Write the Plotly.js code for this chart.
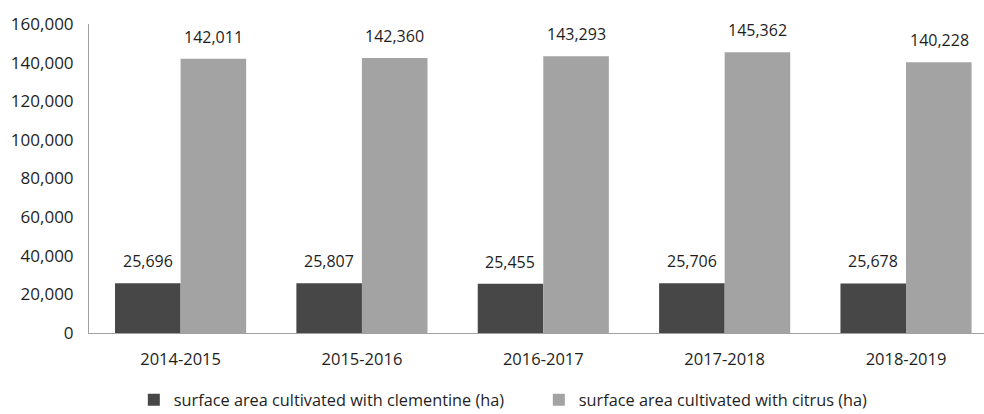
<!DOCTYPE html>
<html>
<head>
<meta charset="utf-8">
<script src="https://cdn.plot.ly/plotly-3.0.1.min.js"></script>
<style>html,body{margin:0;padding:0;background:#fff;}#chart{width:984px;height:414px;}</style>
</head>
<body>
<div id="chart"></div>
<script>
const seasons = ["2014-2015", "2015-2016", "2016-2017", "2017-2018", "2018-2019"];
const clementine = [25696, 25807, 25455, 25706, 25678];
const citrus = [142011, 142360, 143293, 145362, 140228];
const seriesNames = ["surface area cultivated with clementine (ha)", "surface area cultivated with citrus (ha)"];
const yTicks = [0, 20000, 40000, 60000, 80000, 100000, 120000, 140000, 160000];

const fontFam = "'Open Sans', 'Liberation Sans', sans-serif";
const txtColor = "#1e1e1e";

const traces = [
  {type: "bar", x: seasons, y: clementine, name: seriesNames[0],
   marker: {color: "#474747", line: {width: 0}}, hoverinfo: "none"},
  {type: "bar", x: seasons, y: citrus, name: seriesNames[1],
   marker: {color: "#a3a3a3", line: {width: 0}}, hoverinfo: "none"}
];

const fmt = v => v.toLocaleString("en-US");
const annotations = [];
seasons.forEach((s, i) => {
  [[clementine, -33], [citrus, 33]].forEach(([arr, dx]) => {
    annotations.push({x: s, y: arr[i], xref: "x", yref: "y", text: fmt(arr[i]),
      showarrow: false, yanchor: "bottom", xshift: dx, yshift: 9,
      font: {family: fontFam, size: 16, color: txtColor}});
  });
});

const layout = {
  width: 984, height: 414,
  margin: {l: 89, r: 0, t: 24, b: 81, autoexpand: false},
  paper_bgcolor: "#fff", plot_bgcolor: "#fff",
  barmode: "group", bargap: 0.277, bargroupgap: 0,
  showlegend: true,
  legend: {orientation: "h", xref: "container", x: 0.136, xanchor: "left",
    yref: "container", y: 0.076, yanchor: "top",
    entrywidth: 360, entrywidthmode: "pixels",
    font: {family: fontFam, size: 16.3, color: txtColor}, traceorder: "normal"},
  xaxis: {type: "category", range: [-0.505, 4.43], showline: true, linecolor: "#a0a0a0", linewidth: 1,
    showgrid: false, zeroline: false, ticks: "", ticklabelstandoff: 11,
    tickfont: {family: fontFam, size: 16.5, color: txtColor}},
  yaxis: {range: [0, 160000], tickvals: yTicks, ticktext: yTicks.map(fmt),
    showline: true, linecolor: "#a0a0a0", linewidth: 1, showgrid: false, zeroline: false,
    ticks: "", ticklabelstandoff: 11,
    tickfont: {family: fontFam, size: 17, color: txtColor}},
  annotations: annotations
};

Plotly.newPlot("chart", traces, layout, {staticPlot: true, displayModeBar: false});
</script>
</body>
</html>
